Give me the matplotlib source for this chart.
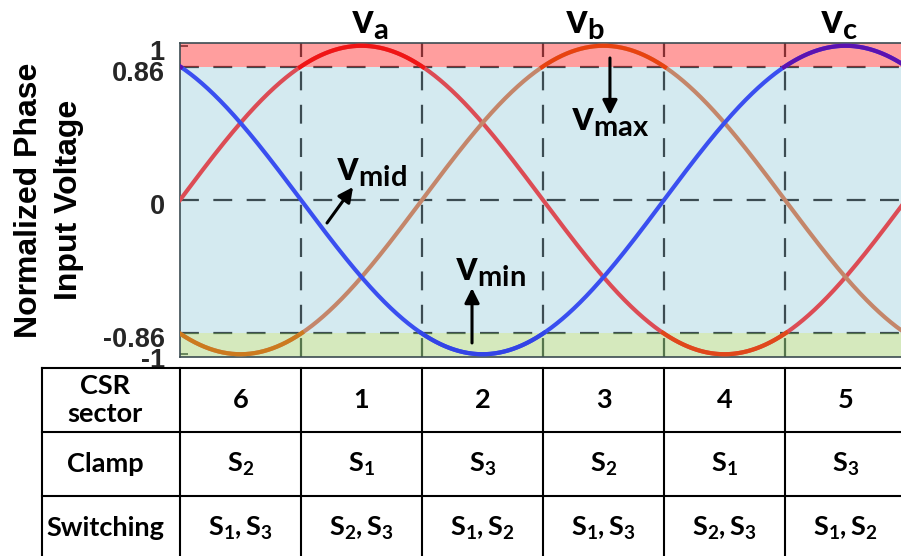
import numpy as np
import matplotlib
matplotlib.use("Agg")
import matplotlib.pyplot as plt
from matplotlib.transforms import Affine2D

# normalized three-phase input voltages (degrees of the line period)
theta = np.linspace(0, 360, 1441)
phase_names = ["a", "b", "c"]
phase_shift = [0, 120, 240]
band_level = 0.86

# colour of each phase in the mid / max / min zone
color_mid = ["#dc4c55", "#c4866a", "#3a4ff0"]
color_max = ["#f01515", "#e8420f", "#5c12b0"]
color_min = ["#e0481a", "#cc7a1e", "#3344e6"]

sector_bounds = [60, 120, 180, 240, 300]
ytick_vals = [-1, -0.86, 0, 0.86, 1]
ytick_text = ["-1", "-0.86", "0", "0.86", "1"]

# CSR sector table under the waveforms
sector_ids = ["6", "1", "2", "3", "4", "5"]
clamp = ["S_2", "S_1", "S_3", "S_2", "S_1", "S_3"]
switching = ["S_1,S_3", "S_2,S_3", "S_1,S_2",
             "S_1,S_3", "S_2,S_3", "S_1,S_2"]
row_names = ["CSR\nsector", "Clamp", "Switching"]

plt.rcParams["mathtext.fontset"] = "custom"
plt.rcParams["mathtext.rm"] = "Lato"
plt.rcParams["mathtext.bf"] = "Lato:bold"
plt.rcParams["mathtext.it"] = "Lato:italic"

W, H = 901, 556
fig = plt.figure(figsize=(W / 100, H / 100), dpi=100)


def px_box(x0, y0, x1, y1):
    return [x0 / W, 1 - y1 / H, (x1 - x0) / W, (y1 - y0) / H]


ax = fig.add_axes(px_box(180, 43, 906, 357))
ax.set_xlim(0, 360)
ax.set_ylim(-1.018, 1.018)

grid_kw = dict(color="#3c4c52", lw=1.6, ls=(0, (8.5, 6.5)), zorder=1)
ax.axhspan(-band_level, band_level, color="#d4eaf0", lw=0, zorder=0)
for yl in [band_level, 0, -band_level]:
    ax.axhline(yl, **grid_kw)
for xb in sector_bounds:
    ax.axvline(xb, **grid_kw)
ax.axhspan(band_level, 1.1, color="red", alpha=0.38, lw=0, zorder=2)
ax.axhspan(-1.1, -band_level, color=(0.53, 0.76, 0.26), alpha=0.35, lw=0, zorder=2)

for i, shift in enumerate(phase_shift):
    v = np.sin(np.radians(theta - shift))
    ax.plot(theta, v, color=color_mid[i], lw=3, zorder=3)
    ax.plot(theta, np.where(v > band_level, v, np.nan), color=color_max[i], lw=3, zorder=3.1)
    ax.plot(theta, np.where(v < -band_level, v, np.nan), color=color_min[i], lw=3, zorder=3.1)

ax.set_xticks([])
ax.set_yticks(ytick_vals, ytick_text)
ax.tick_params(axis="y", direction="in", length=6, width=1.2, color="#3c4c52",
               pad=11, labelsize=19.5, labelcolor="#262626")
for lbl in ax.get_yticklabels():
    lbl.set_fontweight("bold")
    lbl.set_fontfamily("Liberation Sans")
    lbl.set_transform(lbl.get_transform() + Affine2D().translate(0, -4))
for sp in ax.spines.values():
    sp.set_color("#3c4c52")
    sp.set_linewidth(1.2)

fig.text(49 / W, 1 - 200 / H, "Normalized Phase\nInput Voltage", rotation=90,
         ha="center", va="center", fontsize=23, fontweight="bold",
         family="Liberation Sans", linespacing=1.4)

# phase names above each peak
label_theta = [94, 201, 327]
for name, lt in zip(phase_names, label_theta):
    ax.text(lt, 1.083, r"$\mathbf{v_%s}$" % name, fontsize=30, ha="center",
            va="baseline", clip_on=False)

# envelope labels with arrows
env = [("max", 213.2, 0.454, (213.2, 0.921), (213.2, 0.551)),
       ("mid", 94.7, 0.13, (72.9, -0.149), (85.8, 0.084)),
       ("min", 153.7, -0.519, (144.8, -0.927), (144.8, -0.571))]
for sub, tx, ty, tail, tip in env:
    ax.text(tx, ty, r"$\mathbf{v_{%s}}$" % sub, fontsize=30, ha="center",
            va="baseline", zorder=5)
    ax.annotate("", xy=tip, xytext=tail, zorder=5,
                arrowprops=dict(arrowstyle="-|>", color="k", lw=2.2,
                                mutation_scale=22, shrinkA=0, shrinkB=0))

# table
tax = fig.add_axes(px_box(42, 368, 906, 560))
left_edge = -68.4
tax.set_xlim(left_edge, 360)
tax.set_ylim(3, 0)
tax.axis("off")
for y in [0, 1, 2]:
    tax.plot([left_edge, 360], [y, y], color="k", lw=1.5, clip_on=False)
for x in [left_edge, 0] + sector_bounds:
    tax.plot([x, x], [0, 3], color="k", lw=1.5, clip_on=False)

txt_kw = dict(ha="center", va="center", fontsize=19.5, family="Lato", fontweight="bold")
for r, name in enumerate(row_names):
    tax.text(left_edge / 2 - 3, r + 0.5, name, linespacing=1.25, **txt_kw)
for c in range(6):
    xc = 30 + 60 * c
    tax.text(xc, 0.5, sector_ids[c], **txt_kw)
    tax.text(xc, 1.5, r"$\mathbf{%s}$" % clamp[c], **txt_kw)
    tax.text(xc, 2.5, r"$\mathbf{%s}$" % switching[c], **txt_kw)

fig.savefig("out.png", dpi=100)
